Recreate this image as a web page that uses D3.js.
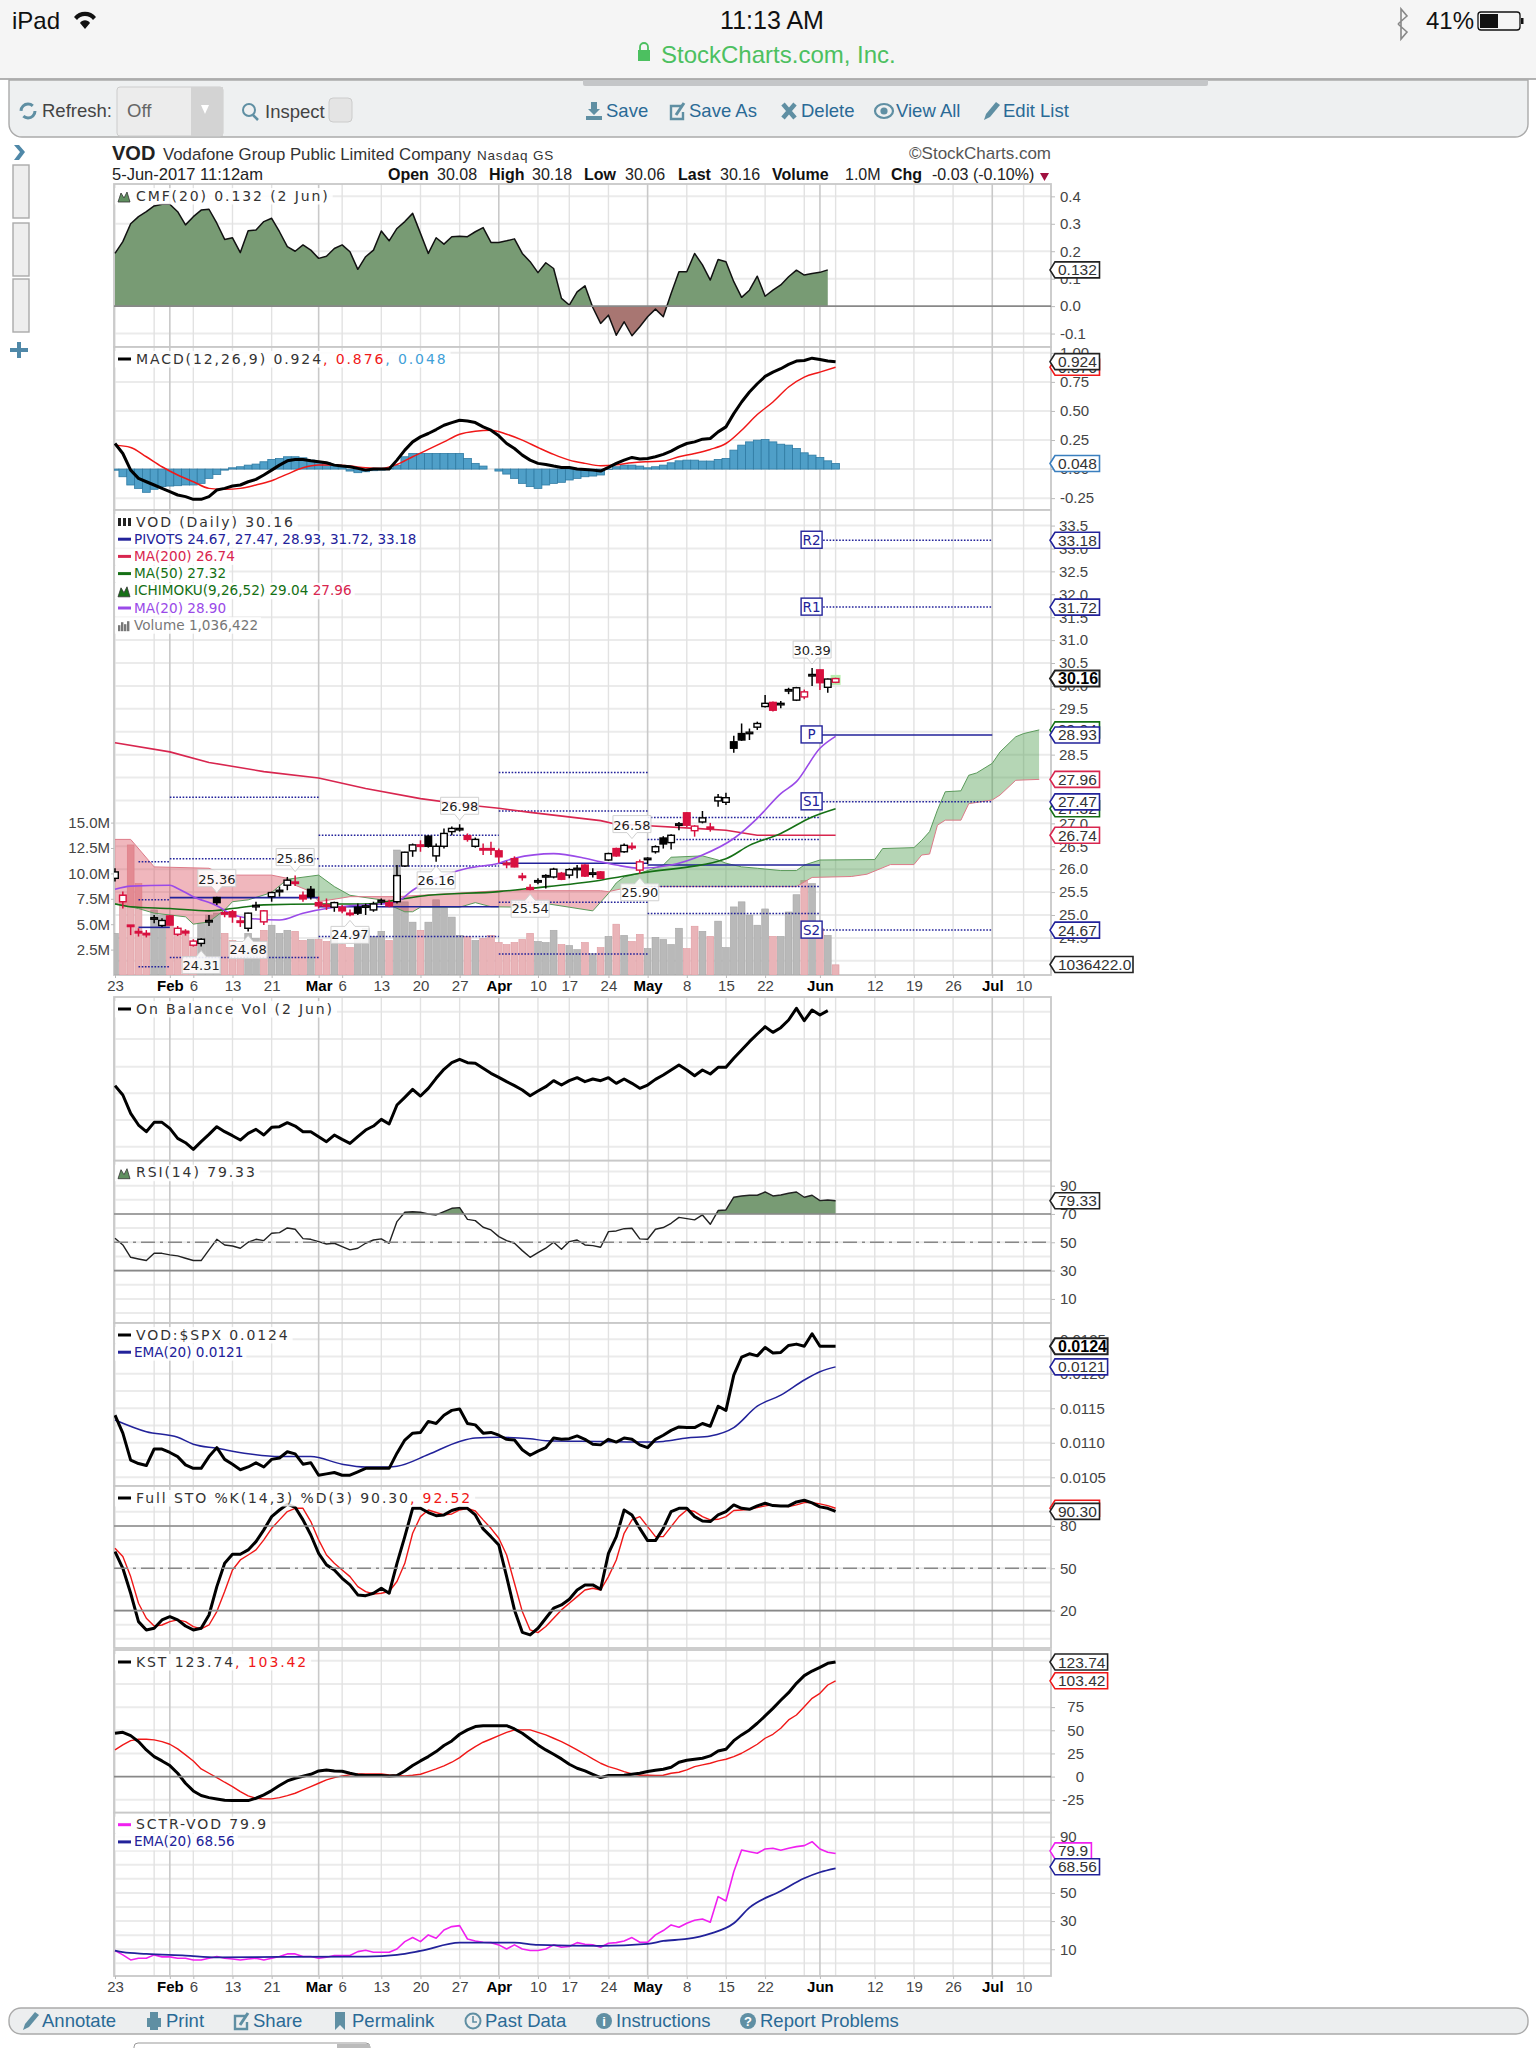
<!DOCTYPE html>
<html>
<head>
<meta charset="utf-8">
<style>
body { margin: 0; background: #fff; }
svg { display: block; font-family: "Liberation Sans", sans-serif; }
.axis text { font: 15px "Liberation Sans", sans-serif; fill: #444; }
.axis path { display: none; }
.axis line { stroke: #bbb; }
.legend { font: 14px "DejaVu Sans", sans-serif; letter-spacing: 1.9px; fill: #333; }
.legend2 { font: 13.6px "DejaVu Sans", sans-serif; letter-spacing: 0; }
.link { font: 18.5px "Liberation Sans", sans-serif; fill: #2a6a96; }
.head { font: 16px "Liberation Sans", sans-serif; fill: #222; }
.bold { font-weight: bold; fill: #111; }
</style>
</head>
<body>
<svg id="chart" width="1536" height="2048"></svg>
<script src="https://d3js.org/d3.v7.min.js"></script>
<script>

var dateDays = [0,7,10,15,20,26,29,34,39,44,49,54,58,63,68,73,78,83,90,97,102,107,112,116];
var dateLabels = ["23","Feb","6","13","21","Mar","6","13","20","27","Apr","10","17","24","May","8","15","22","Jun","12","19","26","Jul","10"];
var monthDays = [7,26,49,68,90,112];
var extraGridDays = [5,88,92];

var opens = [25.80,25.29,24.78,24.64,24.60,24.91,24.77,24.98,24.58,24.64,24.34,24.38,24.85,25.38,25.05,25.07,24.87,24.71,25.18,24.85,25.40,25.51,25.65,25.72,25.43,25.56,25.27,25.22,25.17,25.17,25.04,25.17,25.17,25.11,25.29,25.27,25.29,26.07,26.40,26.53,26.72,26.29,26.50,26.82,26.86,26.73,26.50,26.45,26.45,26.40,26.13,26.23,25.85,25.60,25.72,25.83,25.83,25.91,25.87,25.99,26.09,25.89,25.94,26.20,26.45,26.38,26.50,25.98,26.21,26.38,26.68,26.58,26.96,27.23,26.84,27.03,26.92,27.49,27.46,28.78,28.96,28.96,29.10,29.55,29.64,29.59,29.90,29.69,29.76,30.22,30.35,29.97,30.08];
var highs = [26.02,25.51,24.78,24.71,24.67,25.00,24.93,25.00,24.76,24.69,24.47,24.49,25.00,25.40,25.09,25.11,24.96,25.05,25.29,25.11,25.51,25.62,25.83,25.86,25.51,25.63,25.40,25.36,25.29,25.22,25.12,25.25,25.25,25.29,25.36,25.33,26.09,26.38,26.56,26.63,26.74,26.56,26.89,26.93,26.98,26.78,26.69,26.56,26.60,26.45,26.18,26.28,25.92,25.67,25.80,25.89,26.03,25.94,26.02,26.09,26.11,26.02,25.96,26.36,26.47,26.56,26.58,26.21,26.26,26.52,26.72,26.76,27.03,27.24,26.96,27.27,27.01,27.64,27.67,28.91,29.18,29.07,29.22,29.80,29.66,29.67,29.96,29.98,29.92,30.39,30.36,30.16,30.18];
var lows = [25.73,25.14,24.56,24.53,24.51,24.82,24.74,24.77,24.54,24.55,24.31,24.31,24.76,25.22,24.95,24.83,24.74,24.64,25.09,24.78,25.29,25.40,25.54,25.63,25.29,25.34,25.14,25.11,25.07,25.04,24.97,25.00,25.00,25.07,25.22,25.17,25.25,26.05,26.27,26.38,26.47,26.16,26.45,26.74,26.82,26.60,26.47,26.31,26.31,26.14,26.02,26.04,25.75,25.54,25.67,25.58,25.80,25.76,25.80,25.80,25.83,25.82,25.78,26.18,26.27,26.36,26.42,25.90,26.11,26.34,26.45,26.43,26.85,26.92,26.71,27.00,26.82,27.36,27.40,28.54,28.80,28.82,29.04,29.53,29.44,29.51,29.82,29.67,29.71,30.00,29.91,29.85,30.06];
var closes = [25.94,25.43,24.76,24.61,24.59,24.94,24.88,24.78,24.71,24.61,24.43,24.47,24.88,25.27,25.02,24.96,24.84,25.04,25.21,25.09,25.49,25.54,25.76,25.69,25.35,25.40,25.20,25.19,25.27,25.09,25.01,25.04,25.20,25.24,25.32,25.20,25.86,26.37,26.53,26.50,26.50,26.50,26.78,26.89,26.89,26.65,26.65,26.42,26.42,26.27,26.10,26.05,25.82,25.56,25.75,25.86,26.00,25.78,25.99,26.02,25.85,25.92,25.80,26.34,26.29,26.52,26.47,26.16,26.24,26.49,26.55,26.74,26.99,26.96,26.94,27.12,26.90,27.57,27.56,28.64,28.82,28.99,29.18,29.62,29.47,29.62,29.92,29.96,29.87,30.25,30.07,30.15,30.16];
var downDays = [1,2,3,4,7,8,9,10,14,15,16,19,23,24,26,27,29,30,35,39,45,47,48,49,50,51,52,53,57,60,62,64,66,67,73,74,76,84,88,90,92];
var volumes = [4.1,7.9,12.8,9.0,4.1,6.4,5.9,5.4,4.6,4.4,3.1,5.1,5.9,6.1,4.1,3.4,3.1,4.1,3.6,4.4,4.9,4.1,4.4,4.3,3.4,3.5,3.5,3.3,3.4,3.0,2.7,4.4,4.6,3.8,4.3,3.4,12.3,7.2,5.2,4.4,5.2,7.4,6.7,5.7,3.9,3.8,3.4,3.6,3.9,3.2,3.0,3.2,3.5,4.1,3.3,3.2,4.4,3.0,2.9,2.5,3.2,2.1,2.7,3.8,5.0,3.9,3.3,4.0,2.6,3.7,3.5,3.0,4.6,2.6,4.8,4.3,3.8,5.3,2.7,6.7,7.2,5.9,4.9,6.5,3.8,3.8,6.2,7.9,9.3,9.0,4.6,3.9,1.0];

var ma200Days = [0,7,12,19,26,32,39,45,49,53,62,64,67,74,78,82,92];
var ma200 = [28.76,28.56,28.33,28.13,27.99,27.76,27.54,27.40,27.33,27.24,27.06,26.98,26.96,26.89,26.85,26.74,26.74];
var ma50Days = [0,2,7,12,15,19,26,32,36,40,49,53,62,67,78,81,85,89,92];
var ma50 = [25.24,25.18,25.14,25.09,25.14,25.22,25.24,25.24,25.33,25.43,25.51,25.58,25.76,25.91,26.23,26.52,26.78,27.14,27.32];
var ma20Days = [0,2,7,8,10,13,15,17,21,24,27,30,34,36,38,41,45,49,51,56,60,62,64,67,71,75,79,82,85,87,90,92];
var ma20 = [25.56,25.63,25.65,25.58,25.40,25.20,25.01,24.93,24.89,25.04,25.14,25.20,25.24,25.29,25.54,25.80,26.02,26.13,26.24,26.34,26.24,26.16,26.09,26.02,26.09,26.31,26.67,27.11,27.65,27.91,28.64,28.90];

var spanADays = [0,3,5,9,10,12,14,15,17,20,22,26,28,30,34,35,37,38,39,44,46,48,52,55,58,61,63,64,65,67,70,71,75,77,78,80,82,85,87,88,90,97,98,102,103,104,105,106,108,109,110,112,113,115,116,118];
var spanA = [25.25,25.14,25.04,24.96,24.80,24.85,25.11,25.29,25.33,25.49,25.78,25.87,25.62,25.43,25.33,25.22,25.07,25.07,25.17,25.17,25.27,25.18,25.17,25.25,25.17,25.09,25.47,25.70,25.83,25.91,26.09,26.26,26.29,26.20,26.13,26.05,26.02,25.97,25.97,26.09,26.20,26.21,26.45,26.47,26.63,26.82,27.29,27.69,27.71,28.05,28.10,28.31,28.56,28.89,28.96,29.04];
var spanBDays = [0,2,5,12,14,20,22,23,25,26,30,36,49,62,63,66,87,89,94,96,99,102,103,104,105,106,108,109,112,113,115,118];
var spanB = [26.65,26.65,26.05,26.02,25.87,25.87,25.80,25.65,25.51,25.29,25.40,25.40,25.53,25.53,25.51,25.62,25.62,25.82,25.84,25.89,26.10,26.10,26.31,26.33,26.96,27.07,27.07,27.43,27.51,27.62,27.94,27.96];

var pivotStart = [3,7,26,49,68,90];
var pivotEnd = [7,26,49,68,90,112];
var pivotR2 = [null,27.57,26.74,28.11,27.13,33.18];
var pivotR1 = [26.16,26.23,26.07,27.27,26.65,31.72];
var pivotP = [24.73,25.38,25.18,26.13,26.09,28.93];
var pivotS1 = [25.33,null,24.53,25.28,25.62,27.47];
var pivotS2 = [23.87,24.07,null,24.15,25.03,24.67];
var pivotNames = ["R2","R1","P","S1","S2"];

var noteDays = [11,13,17,23,30,41,44,53,66,67,89];
var noteTexts = ["24.31","25.36","24.68","25.86","24.97","26.16","26.98","25.54","26.58","25.90","30.39"];
var noteAbove = [0,1,0,1,0,0,1,0,1,0,1];

var cmf = [.192,.235,.30,.326,.344,.365,.371,.371,.344,.296,.326,.35,.353,.302,.243,.249,.195,.275,.277,.308,.32,.271,.217,.20,.223,.204,.174,.182,.21,.223,.198,.134,.18,.204,.274,.238,.283,.308,.338,.265,.192,.249,.226,.253,.255,.253,.271,.286,.232,.232,.238,.245,.192,.162,.122,.158,.137,.028,.004,.052,.074,-.005,-.063,-.033,-.106,-.057,-.108,-.075,-.039,-.011,-.039,.046,.125,.125,.192,.15,.095,.17,.162,.089,.032,.058,.109,.036,.058,.077,.107,.131,.113,.119,.123,.132];

var macd = [.22,.134,-.009,-.08,-.109,-.137,-.166,-.194,-.223,-.237,-.26,-.26,-.237,-.18,-.166,-.146,-.137,-.109,-.089,-.051,-.009,.034,.071,.083,.083,.071,.063,.054,.034,.026,.02,.006,-.009,0,0,0,.077,.163,.234,.277,.306,.34,.377,.4,.42,.414,.4,.363,.334,.286,.22,.177,.12,.077,.049,.04,.026,.014,.014,0,-.003,-.009,-.017,.014,.049,.077,.1,.086,.091,.106,.126,.154,.191,.22,.234,.257,.263,.32,.363,.477,.577,.663,.734,.797,.834,.863,.9,.929,.934,.954,.943,.929,.924];
var signalDays = [0,2,4,6,8,10,12,14,16,18,20,22,24,26,28,30,32,34,36,38,40,42,44,46,48,50,52,54,56,58,60,62,64,66,68,70,72,74,76,78,80,82,84,86,88,90,92];
var signal = [.206,.186,.106,.02,-.051,-.109,-.166,-.174,-.166,-.137,-.1,-.043,.011,.034,.034,.026,.011,.006,.04,.106,.169,.234,.3,.326,.334,.3,.249,.186,.126,.077,.049,.029,.037,.054,.063,.069,.106,.134,.169,.22,.334,.469,.577,.706,.791,.834,.876];
var macdHist = [-.01,-.066,-.137,-.166,-.2,-.174,-.151,-.146,-.143,-.137,-.137,-.123,-.08,-.046,-.009,.011,.02,.034,.043,.063,.083,.091,.106,.106,.097,.077,.063,.054,.034,.02,-.017,-.031,-.023,-.014,-.009,.006,.034,.106,.134,.134,.134,.134,.134,.134,.134,.091,.049,.026,0,-.017,-.043,-.08,-.123,-.151,-.166,-.137,-.123,-.114,-.094,-.08,-.066,-.06,-.051,-.003,.02,.034,.034,.026,.011,.02,.034,.054,.071,.077,.077,.069,.069,.083,.091,.163,.206,.234,.249,.254,.234,.214,.206,.177,.14,.12,.1,.071,.048];

var obv = [22.3,19.5,14,10.5,8.5,11.3,11.3,9.5,6.5,5.2,3.2,5.5,7.7,10,8.5,7.3,6,8,9.2,7.5,9.8,10,11.2,10.2,8.5,8.5,7,5.5,7.5,6.2,5,7,9,10.2,12.2,10.8,16.5,18.8,21.2,19.2,21.5,24.5,27.2,29.2,30.2,29.2,29,27.5,26,24.8,23.5,22.3,21,19.3,20.7,22,23.8,22.5,23.8,24.7,23.5,24.3,23.8,24.7,23,24.3,23,21.5,22.5,24.2,25.5,27,28.5,27,25.3,27,25.8,27.8,27.8,30.5,33,35.5,37.8,40,38.3,39.7,42,45.5,41.8,45,43.5,44.8];
var obvGrid = [44.5,36.3,28,20,12,4];

var rsi = [52.8,48.1,39.4,38.2,37.1,42.2,42.2,41.1,40.4,38.7,37.1,37.1,44.6,52.1,48.1,47.4,45.8,50,52.1,51.2,56.4,56.8,60.1,59.2,52.6,52.1,50.5,48.8,49.3,46.9,44.6,45.8,49.3,51.6,52.4,49.3,64.6,71.2,71.6,71.2,70,69.3,71.6,74,74.5,66.2,65.3,60.6,58.7,54,51.2,49.3,44.1,39.4,42.7,45.8,50,45.1,50.5,51.6,48.1,47.6,46.5,57.5,58,59.6,59.9,52.4,52.1,59.2,60.4,63.4,67.6,66.7,65.8,69.3,62.7,72.4,72.8,81.8,82.7,83.2,83.2,85.5,82.7,83.4,84.6,85.5,81.8,83.2,79.4,79.9,79.33];

var spxRatio = [.0114,.01114,.01075,.0107,.01067,.01091,.01091,.01086,.0108,.01068,.01063,.01063,.0108,.01093,.01076,.01069,.01061,.01065,.01071,.01065,.01076,.01078,.01087,.01084,.01069,.01071,.01053,.01055,.01057,.01053,.01053,.01058,.01063,.01063,.01063,.01063,.01085,.01104,.01114,.01115,.01131,.01128,.0114,.01147,.01149,.01128,.01126,.01114,.01115,.01111,.01105,.01104,.0109,.01082,.01088,.01093,.01107,.01105,.01106,.0111,.01105,.01098,.01097,.01105,.01101,.01107,.01105,.01097,.01093,.01105,.01111,.01118,.01123,.01122,.01122,.01128,.01124,.01153,.01147,.01198,.01224,.01229,.01226,.01238,.0123,.01231,.01241,.01243,.0124,.01258,.0124,.0124,.0124];
var spxEmaDays = [0,4,8,10,13,17,21,25,29,32,35,36,40,44,46,49,53,55,62,68,70,73,76,79,82,85,88,90,92];
var spxEma = [.01133,.01116,.01108,.01098,.01092,.01084,.0108,.0108,.01069,.01065,.01065,.01066,.01083,.01102,.01107,.01108,.01106,.01103,.01102,.01101,.01102,.01107,.0111,.01122,.01153,.01169,.01191,.01203,.0121];

var stoK = [61.8,50,32.3,12.2,6.3,7.5,13.4,15.7,13.4,9.1,6.3,7.5,16.9,37,53.5,59.9,59.9,63,68.9,77.2,86.6,91.3,95.4,93.2,84.3,73.6,60.6,52.4,48.8,42.9,38.2,31.1,30.6,32.3,35.8,32.3,53.5,72.4,92.5,92.5,89.5,87.3,87.8,90.9,92.5,92.5,87.8,77.9,72.4,66.5,44.1,20.5,4.6,2.8,7.5,14.6,21.7,24,28,34.6,38.2,38.2,35.1,60.6,72.4,91.3,87.8,78.3,69.6,69.6,78.3,90.2,92.5,92.5,86.6,83.5,83.1,87.8,90.2,94.9,92.5,91.8,94.2,96.1,94.4,94.2,94.2,97,98.2,96.3,93.5,92.5,90.3];
var stoD = [64.2,58.3,44.1,25.2,14.6,9.1,9.8,12.2,13.4,12.2,8.7,7,9.8,19.3,33.5,48.8,55.9,59.4,63,70.1,78.3,84.3,90.2,92.5,92.5,83.1,70.1,59.4,53.5,48.8,44.1,37,33.5,31.8,32.3,33.5,40.6,53.5,74.8,86.6,91.3,89.5,87.8,88.5,91.3,92.5,90.6,84.3,78.3,71.3,59.4,39.4,19.3,6.3,4.4,8.7,14.6,20.5,25.2,29.9,34.6,35.8,34.6,44.1,55.9,74.8,84.3,86.6,79.5,72.4,72.4,79.5,86.6,91.3,90.2,86.6,84.3,84.7,86.6,90.9,91.3,91.8,93,94.2,94.9,94.2,93.7,94.9,96.5,96.5,95.6,94.4,92.52];

var kst = [46.8,47.8,44.2,37.8,28.8,21.6,16.9,11.9,3.6,-7.2,-15.5,-20.5,-22.7,-24.1,-25.5,-25.9,-25.9,-25.9,-23.4,-19.8,-15.1,-9.7,-4.7,-1.8,.4,2.5,6.1,7.2,6.1,5.8,3.6,1.8,1.1,1.1,1.1,.7,1.1,6.1,11.9,16.9,21.6,27,33.5,38.5,45.7,50.4,54,55,55,55,55,51.4,46.8,40.6,34.2,28.8,24.1,19.1,13.3,9,6.1,2.5,-1.1,1.1,1.1,1.4,2.5,3.6,5.4,6.8,7.9,10.1,15.5,17.6,18.7,19.8,22.3,27.7,29.5,38.8,45,50.4,57.6,65.5,73.7,82.4,90.6,100.7,109,114,118,122.3,123.74];
var kstSignal = [28.8,34.2,38.8,40.3,40.3,39.6,37.8,34.9,29.9,23.4,16.9,8.3,3.6,-1.1,-6.1,-10.8,-16.2,-20.9,-23.4,-24.1,-24.1,-22.7,-20.5,-18,-14.4,-10.8,-7.2,-3.6,-1.1,.7,1.8,2.9,2.9,2.9,2.9,1.8,1.1,.7,1.4,2.5,5.4,8.3,11.5,15.5,20.5,27,32.4,37.1,40.6,44.2,47.8,50.4,50.4,50.4,47.8,45,41.4,37.8,33.5,28.8,24.1,19.1,14.4,10.8,8.3,5.4,2.9,1.4,1.4,1.1,1.4,3.6,4.7,7.2,10.8,12.6,14.4,16.9,18.7,21.6,25.2,29.9,34.9,41.4,45.7,52.2,61.2,66.5,75.5,84.5,89.9,98.9,103.42];

var sctr = [9.1,6,2.4,3.6,3.6,6,4.6,4.6,3.6,3.6,2.4,2.4,3.6,4.8,3.6,3.1,2.4,3.1,3.6,2.4,3.6,4.8,6.7,6.7,4.8,4.8,3.6,4.3,5.5,5.5,5.5,8.3,9.3,7.9,7.9,7.9,10.2,15.4,18.3,15.4,20.2,17.8,23.7,26.1,26.8,17.3,15.9,15,14.7,13.1,10.2,13.1,10.2,9.1,9.1,10.2,13.1,11.4,11.9,14.7,13.6,13.1,11.4,14.3,14.7,15.9,18.3,15,15,20.2,23.3,27.3,25.6,28.5,30.6,31.5,29.2,47.4,44.3,65.1,80.5,79.3,78.2,81.2,81.7,80.3,81.7,82.9,83.6,86.4,81.2,78.9,78];
var sctrEmaDays = [0,1,4,9,13,21,32,36,39,44,51,54,62,68,70,73,76,79,81,85,88,90,92];
var sctrEma = [9.1,7.9,6.7,5.5,4.3,4.6,4.8,6,8.8,14.7,14.7,13.1,12.4,13.8,15.9,17.3,21.1,28.5,39.6,51.4,60.4,64.7,67.5];

var navTop = ["Save","Save As","Delete","View All","Edit List"];
var navTopX = [606,689,801,896,1003];
var navTopIcons = ["save","box","cross","eye","pencil"];
var navBottom = ["Annotate","Print","Share","Permalink","Past Data","Instructions","Report Problems"];
var navBottomX = [42,166,253,352,485,616,760];
var navBottomIcons = ["pencil","print","box","mark","clock","i","?"];

var svg = d3.select("#chart");
var x = d3.scaleLinear().domain([0, 119.5]).range([115, 1051]);
var left = 114, right = 1051;
var RED = "#d8103f", BLUE = "#22229a";

function seq(a, b, step) {
	return d3.range(Math.round((b - a) / step) + 1).map(function(k) { return a + k * step; });
}
function pts(values, days) {
	return values.map(function(v, i) { return [days ? days[i] : i, v]; });
}
function drawLine(g, y, values, days, color, width, smooth) {
	var line = d3.line().x(function(d) { return x(d[0]); }).y(function(d) { return y(d[1]); });
	if (smooth) line.curve(d3.curveMonotoneX);
	return g.append("path").attr("d", line(pts(values, days))).attr("fill", "none")
		.attr("stroke", color).attr("stroke-width", width).attr("stroke-linejoin", "round");
}
function fixed(n) {
	return function(d) { return d.toFixed(n); };
}

function makePanel(name, top, bottom, domain, gridVals) {
	var y = d3.scaleLinear().domain(domain).range([bottom, top]);
	var g = svg.append("g").attr("class", name);
	g.append("rect").attr("x", left).attr("y", top).attr("width", right - left).attr("height", bottom - top).attr("fill", "#fff");
	g.selectAll(".h").data(gridVals).enter().append("line")
		.attr("x1", left).attr("x2", right).attr("y1", y).attr("y2", y)
		.attr("stroke", "#ebebeb").attr("stroke-width", 2);
	var days = dateDays.concat(extraGridDays);
	g.selectAll(".v").data(days).enter().append("line")
		.attr("x1", x).attr("x2", x).attr("y1", top).attr("y2", bottom)
		.attr("stroke", function(d) { return monthDays.indexOf(d) >= 0 ? "#c9c9c9" : "#e2e2e2"; })
		.attr("stroke-width", function(d) { return monthDays.indexOf(d) >= 0 ? 1.6 : 1.4; });
	g.append("rect").attr("x", left).attr("y", top).attr("width", right - left).attr("height", bottom - top)
		.attr("fill", "none").attr("stroke", "#c8c8c8").attr("stroke-width", 1.8);
	svg.append("clipPath").attr("id", name + "-clip").append("rect")
		.attr("x", left).attr("y", top).attr("width", right - left).attr("height", bottom - top);
	var body = g.append("g").attr("clip-path", "url(#" + name + "-clip)");
	return { y: y, g: g, body: body, top: top, bottom: bottom };
}

function yAxis(panel, ticks, fmt, pad) {
	panel.g.append("g").attr("class", "axis").attr("transform", "translate(" + right + ",0)")
		.call(d3.axisRight(panel.y).tickValues(ticks).tickFormat(fmt).tickSize(4).tickPadding(pad || 5));
}
function hRule(panel, v, dash) {
	panel.g.append("line").attr("x1", left).attr("x2", right).attr("y1", panel.y(v)).attr("y2", panel.y(v))
		.attr("stroke", "#888").attr("stroke-width", 1.6).attr("stroke-dasharray", dash || null);
}
function tag(panel, v, text, color, bold, wide) {
	var yy = panel.y(v), w = wide || text.length * 8.1 + 4;
	var g = panel.g.append("g");
	g.append("path").attr("d", "M" + (right - 1) + "," + yy + "L1055," + (yy - 8) + "H" + (1055 + w) + "V" + (yy + 8) + "H1055Z")
		.attr("fill", "#fff").attr("stroke", color).attr("stroke-width", bold ? 2 : 1.6);
	g.append("text").attr("x", 1058).attr("y", yy + 5.5).attr("fill", bold ? "#000" : "#333")
		.attr("font-size", bold ? 16 : 15.5).attr("font-weight", bold ? "bold" : "normal").text(text);
}
function legend(panel, rows) {
	var g = panel.g.append("g");
	rows.forEach(function(r, i) {
		var yy = panel.top + 12 + i * 17.2;
		var t = g.append("text").attr("x", r.small ? 134 : 136).attr("y", yy + 4.5).attr("class", r.small ? "legend2" : "legend");
		r.parts.forEach(function(p) { t.append("tspan").attr("fill", p[1]).text(p[0]); });
		var box = t.node().getBBox();
		g.insert("rect", "text").attr("x", 115).attr("y", yy - 8).attr("width", box.x + box.width - 112).attr("height", 16.5)
			.attr("fill", "#fff").attr("opacity", 0.85);
		if (r.icon == "area") {
			g.append("path").attr("d", "M118," + (yy + 6) + "l3,-9 l3,5 l3,-6 l3,10Z").attr("fill", r.color).attr("stroke", "#333").attr("stroke-width", 0.8);
		} else if (r.icon == "bars") {
			[6, 9, 7, 10].forEach(function(h, k) {
				g.append("rect").attr("x", 118 + k * 3).attr("y", yy + 6 - h).attr("width", 2.4).attr("height", h).attr("fill", r.color);
			});
		} else if (r.icon == "candle") {
			[0, 5, 10].forEach(function(k) {
				g.append("rect").attr("x", 118 + k).attr("y", yy - 4).attr("width", 3).attr("height", 8).attr("fill", "#222");
			});
		} else {
			g.append("line").attr("x1", 118).attr("x2", 131).attr("y1", yy).attr("y2", yy).attr("stroke", r.color).attr("stroke-width", 3);
		}
	});
}
function dateAxis(yy) {
	var ax = svg.append("g").attr("class", "axis").attr("transform", "translate(0," + yy + ")")
		.call(d3.axisBottom(x).tickValues(dateDays).tickFormat(function(d) { return dateLabels[dateDays.indexOf(d)]; }).tickSize(3).tickPadding(2));
	ax.selectAll("text")
		.style("font-weight", function(d) { return monthDays.indexOf(d) >= 0 ? "bold" : "normal"; })
		.style("fill", function(d) { return monthDays.indexOf(d) >= 0 ? "#000" : "#444"; });
}
function navIcon(name, cx, cy) {
	var c = "#5f8fa3", g = svg.append("g").attr("transform", "translate(" + cx + "," + cy + ")");
	if (name == "save") {
		g.append("path").attr("d", "M-3,-9 h6 v7 h3 l-6,6 -6,-6 h3Z M-8,5 h16 v4 h-16Z").attr("fill", c);
	} else if (name == "box") {
		g.append("path").attr("d", "M5,-5 H-6 V8 H6 V1").attr("fill", "none").attr("stroke", c).attr("stroke-width", 2.4);
		g.append("path").attr("d", "M-1,4 L7,-8").attr("stroke", c).attr("stroke-width", 3);
	} else if (name == "cross") {
		g.append("path").attr("d", "M-6,-7 L6,7 M6,-7 L-6,7").attr("stroke", c).attr("stroke-width", 4.5);
	} else if (name == "eye") {
		g.append("ellipse").attr("rx", 9).attr("ry", 7).attr("fill", "none").attr("stroke", c).attr("stroke-width", 2.2);
		g.append("circle").attr("r", 3.6).attr("fill", c);
	} else if (name == "pencil") {
		g.append("path").attr("d", "M-7,9 L-5,3 L5,-9 L9,-6 L-1,6Z").attr("fill", c);
	} else if (name == "print") {
		g.append("path").attr("d", "M-4,-9 h8 v6 h3 v9 h-3 v3 h-8 v-3 h-3 v-9 h3Z").attr("fill", c);
	} else if (name == "mark") {
		g.append("path").attr("d", "M-5,-9 h10 v18 l-5,-5 -5,5Z").attr("fill", c);
	} else if (name == "clock") {
		g.append("circle").attr("r", 7.5).attr("fill", "none").attr("stroke", c).attr("stroke-width", 2);
		g.append("path").attr("d", "M0,-5 V1 H4").attr("fill", "none").attr("stroke", c).attr("stroke-width", 1.6);
	} else {
		g.append("circle").attr("r", 8).attr("fill", c);
		g.append("text").attr("text-anchor", "middle").attr("y", 5).attr("font-size", 13).attr("font-weight", "bold").attr("fill", "#fff").text(name);
	}
}

// top of the page
svg.append("rect").attr("width", 1536).attr("height", 79).attr("fill", "#f5f5f5");
svg.append("line").attr("x1", 0).attr("x2", 1536).attr("y1", 79).attr("y2", 79).attr("stroke", "#9a9a9a").attr("stroke-width", 1.5);
svg.append("text").attr("x", 12).attr("y", 29).attr("font-size", 24).attr("fill", "#111").text("iPad");
svg.append("path").attr("d", "M74,17 a14,14 0 0 1 22,0 l-3,3 a10,10 0 0 0 -16,0Z M80,23 a6,6 0 0 1 10,0 l-5,6Z").attr("fill", "#111");
svg.append("text").attr("x", 772).attr("y", 29).attr("text-anchor", "middle").attr("font-size", 25).attr("fill", "#111").text("11:13 AM");
svg.append("rect").attr("x", 638).attr("y", 50).attr("width", 12).attr("height", 11).attr("fill", "#4cc060");
svg.append("path").attr("d", "M640,50 v-3 a4,4 0 0 1 8,0 v3").attr("fill", "none").attr("stroke", "#4cc060").attr("stroke-width", 1.8);
svg.append("text").attr("x", 661).attr("y", 63).attr("font-size", 24).attr("fill", "#4cc060").text("StockCharts.com, Inc.");
svg.append("path").attr("d", "M1398,24 l9,-8 -6,-7 v30 l6,-7 -9,-8").attr("fill", "none").attr("stroke", "#888").attr("stroke-width", 1.6);
svg.append("text").attr("x", 1426).attr("y", 29).attr("font-size", 24).attr("fill", "#111").text("41%");
svg.append("rect").attr("x", 1478).attr("y", 12).attr("width", 42).attr("height", 18).attr("rx", 3).attr("fill", "none").attr("stroke", "#111").attr("stroke-width", 1.3);
svg.append("rect").attr("x", 1480).attr("y", 14).attr("width", 18).attr("height", 14).attr("fill", "#111");
svg.append("rect").attr("x", 1521).attr("y", 18).attr("width", 2.5).attr("height", 6).attr("fill", "#111");

// toolbar
svg.append("path").attr("d", "M9,80 V124 a13,13 0 0 0 13,13 H1515 a13,13 0 0 0 13,-13 V80Z").attr("fill", "#eef0f1").attr("stroke", "#aaa").attr("stroke-width", 1.4);
svg.append("path").attr("d", "M583,80 V84 a2,2 0 0 0 2,2 H1206 a2,2 0 0 0 2,-2 V80Z").attr("fill", "#c4c6c8");
svg.append("circle").attr("cx", 28).attr("cy", 111).attr("r", 7).attr("fill", "none").attr("stroke", "#5f8fa3").attr("stroke-width", 3).attr("stroke-dasharray", "16 6");
svg.append("text").attr("x", 42).attr("y", 117).attr("font-size", 18.5).attr("fill", "#444").text("Refresh:");
svg.append("rect").attr("x", 117).attr("y", 87).attr("width", 106).attr("height", 49).attr("rx", 3).attr("fill", "#ececec").attr("stroke", "#ccc");
svg.append("rect").attr("x", 191).attr("y", 87).attr("width", 32).attr("height", 49).attr("fill", "#d3d3d3");
svg.append("path").attr("d", "M201,105 h8 l-4,9Z").attr("fill", "#fff");
svg.append("text").attr("x", 127).attr("y", 117).attr("font-size", 18.5).attr("fill", "#666").text("Off");
svg.append("circle").attr("cx", 249).attr("cy", 110).attr("r", 6).attr("fill", "none").attr("stroke", "#5f8fa3").attr("stroke-width", 2);
svg.append("line").attr("x1", 253).attr("y1", 115).attr("x2", 258).attr("y2", 120).attr("stroke", "#5f8fa3").attr("stroke-width", 2.5);
svg.append("text").attr("x", 265).attr("y", 118).attr("font-size", 18.5).attr("fill", "#444").text("Inspect");
svg.append("rect").attr("x", 329).attr("y", 98).attr("width", 23).attr("height", 24).attr("rx", 4).attr("fill", "#e4e4e4").attr("stroke", "#ccc");
svg.selectAll(".navTop").data(navTop).enter().append("text").attr("class", "link")
	.attr("x", function(d, i) { return navTopX[i]; }).attr("y", 117).text(function(d) { return d; });
navTopIcons.forEach(function(n, i) { navIcon(n, navTopX[i] - 12, 111); });

// left side controls
svg.append("path").attr("d", "M14,145 l6,7 -6,8 h5 l6,-8 -6,-7Z").attr("fill", "#4f88a8");
[165, 223, 279].forEach(function(t) {
	svg.append("rect").attr("x", 13).attr("y", t).attr("width", 16).attr("height", 53).attr("fill", "#eee").attr("stroke", "#aaa").attr("stroke-width", 1.4);
});
svg.append("path").attr("d", "M10,350 h18 M19,342 v16").attr("stroke", "#4f88a8").attr("stroke-width", 4);

// chart heading
svg.append("text").attr("x", 112).attr("y", 160).attr("font-size", 20).attr("font-weight", "bold").attr("fill", "#222").text("VOD");
svg.append("text").attr("x", 163).attr("y", 160).attr("font-size", 16.8).attr("fill", "#333").text("Vodafone Group Public Limited Company");
svg.append("text").attr("x", 477).attr("y", 160).attr("font-size", 13.5).attr("fill", "#333").attr("letter-spacing", 0.8).text("Nasdaq GS");
svg.append("text").attr("x", 1051).attr("y", 159).attr("text-anchor", "end").attr("font-size", 17).attr("fill", "#555").text("©StockCharts.com");
svg.append("text").attr("x", 112).attr("y", 180).attr("class", "head").style("font-size", "16.5px").text("5-Jun-2017 11:12am");
var quoteBits = [["Open",388,1],["30.08",437,0],["High",489,1],["30.18",532,0],["Low",584,1],["30.06",625,0],["Last",678,1],["30.16",720,0],["Volume",772,1],["1.0M",845,0],["Chg",891,1],["-0.03 (-0.10%)",932,0]];
svg.selectAll(".quote").data(quoteBits).enter().append("text")
	.attr("class", function(d) { return d[2] ? "head bold" : "head"; })
	.attr("x", function(d) { return d[1]; }).attr("y", 180)
	.text(function(d) { return d[0]; });
svg.append("path").attr("d", "M1040,173 h9 l-4.5,8Z").attr("fill", "#a01040");

// CMF
var pCmf = makePanel("cmf", 184, 347, [-.149, .445], [.4, .3, .2, .1, -.1]);
["above", "below"].forEach(function(side) {
	var y0 = pCmf.y(0), id = "cmf-" + side;
	svg.append("clipPath").attr("id", id).append("rect").attr("x", left).attr("width", right - left)
		.attr("y", side == "above" ? pCmf.top : y0).attr("height", side == "above" ? y0 - pCmf.top : pCmf.bottom - y0);
	pCmf.body.append("path").attr("clip-path", "url(#" + id + ")")
		.attr("d", d3.area().x(function(d) { return x(d[0]); }).y0(y0).y1(function(d) { return pCmf.y(d[1]); })(pts(cmf)))
		.attr("fill", side == "above" ? "#789b74" : "#a87672");
});
hRule(pCmf, 0);
drawLine(pCmf.body, pCmf.y, cmf, null, "#111", 1.5);
yAxis(pCmf, [.4, .3, .2, .1, 0, -.1], fixed(1));
tag(pCmf, .132, "0.132", "#222");
legend(pCmf, [{ icon: "area", color: "#5f8f5f", parts: [["CMF(20) 0.132 (2 Jun)", "#333"]] }]);

// MACD
var pMacd = makePanel("macd", 347, 510, [-.352, 1.05], [1, .75, .5, .25, 0, -.25]);
pMacd.body.selectAll(".hist").data(macdHist).enter().append("rect")
	.attr("x", function(d, i) { return x(i) - 3.9; }).attr("width", 7.83)
	.attr("y", function(d) { return Math.min(pMacd.y(d), pMacd.y(0)); })
	.attr("height", function(d) { return Math.abs(pMacd.y(d) - pMacd.y(0)); })
	.attr("fill", "#4f9fc8").attr("stroke", "#2f7ba3").attr("stroke-width", 0.8);
drawLine(pMacd.body, pMacd.y, signal, signalDays, "#f01818", 1.5, true);
drawLine(pMacd.body, pMacd.y, macd, null, "#000", 3);
yAxis(pMacd, [1, .75, .5, .25, 0, -.25], fixed(2));
tag(pMacd, .876, "0.876", "#f01818");
tag(pMacd, .924, "0.924", "#222");
tag(pMacd, .048, "0.048", "#3a7fbf");
legend(pMacd, [{ color: "#000", parts: [["MACD(12,26,9) 0.924", "#333"], [", 0.876", "#f01818"], [", 0.048", "#3fa0d8"]] }]);

// price
var pPrice = makePanel("price", 510, 975, [23.69, 33.84], seq(24, 33.5, .5));
var yVol = d3.scaleLinear().domain([0, 15]).range([975, 822.6]);
pPrice.body.selectAll(".vol").data(volumes).enter().append("rect")
	.attr("x", function(d, i) { return x(i) - 3.4; }).attr("width", 6.8)
	.attr("y", yVol).attr("height", function(d) { return 975 - yVol(d); })
	.attr("fill", function(d, i) { return downDays.indexOf(i) >= 0 ? "#e9b4b8" : "#b9b9b9"; })
	.attr("stroke", function(d, i) { return downDays.indexOf(i) >= 0 ? "#df9aa0" : "#a5a5a5"; }).attr("stroke-width", 0.6);

// ichimoku cloud, two clip shapes decide the colour
var ax = function(d) { return x(d[0]); };
var ay = function(d) { return pPrice.y(d[1]); };
var ptsA = pts(spanA, spanADays), ptsB = pts(spanB, spanBDays);
svg.append("clipPath").attr("id", "aboveB").append("path").attr("d", d3.area().x(ax).y0(510).y1(ay)(ptsB));
svg.append("clipPath").attr("id", "aboveA").append("path").attr("d", d3.area().x(ax).y0(510).y1(ay)(ptsA));
pPrice.body.append("path").attr("clip-path", "url(#aboveB)").attr("d", d3.area().x(ax).y0(975).y1(ay)(ptsA))
	.attr("fill", "#4f9e4f").attr("opacity", 0.42);
pPrice.body.append("path").attr("clip-path", "url(#aboveA)").attr("d", d3.area().x(ax).y0(975).y1(ay)(ptsB))
	.attr("fill", "#d94a5a").attr("opacity", 0.4);
drawLine(pPrice.body, pPrice.y, spanA, spanADays, "#5a9a5a", 1);
drawLine(pPrice.body, pPrice.y, spanB, spanBDays, "#dd7a88", 1);

// pivots
[pivotR2, pivotR1, pivotP, pivotS1, pivotS2].forEach(function(row, r) {
	pPrice.body.selectAll(".piv" + r).data(row).enter().filter(function(d) { return d !== null; }).append("line")
		.attr("x1", function(d) { return x(pivotStart[row.indexOf(d)]); })
		.attr("x2", function(d) { return x(pivotEnd[row.indexOf(d)]); })
		.attr("y1", pPrice.y).attr("y2", pPrice.y)
		.attr("stroke", BLUE).attr("stroke-width", r == 2 ? 1.6 : 1.5)
		.attr("stroke-dasharray", r == 2 ? null : "1.6 1.6");
});
drawLine(pPrice.body, pPrice.y, ma200, ma200Days, "#d8264f", 1.6);
drawLine(pPrice.body, pPrice.y, ma50, ma50Days, "#157015", 1.6, true);
drawLine(pPrice.body, pPrice.y, ma20, ma20Days, "#9a4ae8", 1.6, true);

// candles
pPrice.body.append("rect").attr("x", x(92) - 5).attr("y", pPrice.y(30.24)).attr("width", 10).attr("height", 10).attr("fill", "#b8eeb0");
var candles = pPrice.body.selectAll(".candle").data(closes).enter().append("g");
function candleColor(i) { return downDays.indexOf(i) >= 0 ? RED : "#000"; }
candles.append("line").attr("x1", function(d, i) { return x(i); }).attr("x2", function(d, i) { return x(i); })
	.attr("y1", function(d, i) { return pPrice.y(highs[i]); }).attr("y2", function(d, i) { return pPrice.y(lows[i]); })
	.attr("stroke", function(d, i) { return candleColor(i); }).attr("stroke-width", 1.5);
candles.append("rect").attr("x", function(d, i) { return x(i) - 3.3; }).attr("width", 6.6)
	.attr("y", function(d, i) { return pPrice.y(Math.max(opens[i], d)); })
	.attr("height", function(d, i) { return Math.max(1.5, Math.abs(pPrice.y(opens[i]) - pPrice.y(d))); })
	.attr("fill", function(d, i) { return d > opens[i] ? "#fff" : candleColor(i); })
	.attr("stroke", function(d, i) { return candleColor(i); }).attr("stroke-width", 1.4);

// price notes on the highs and lows
var notes = pPrice.body.selectAll(".note").data(noteTexts).enter().append("g")
	.attr("transform", function(d, i) {
		var day = noteDays[i];
		var yy = noteAbove[i] ? pPrice.y(highs[day]) - 18 : pPrice.y(lows[day]) + 18;
		return "translate(" + x(day) + "," + yy + ")";
	});
notes.append("path").attr("d", function(d, i) {
	return noteAbove[i] ? "M-19,-9 H19 V8 H5 L0,14 L-5,8 H-19Z" : "M-19,-8 H-5 L0,-14 L5,-8 H19 V9 H-19Z";
}).attr("fill", "#fff").attr("fill-opacity", 0.88).attr("stroke", "#d0d0d0");
notes.append("text").attr("text-anchor", "middle").attr("y", 5).attr("font-size", 13)
	.attr("font-family", "DejaVu Sans").attr("fill", "#222").text(function(d) { return d; });

// pivot name boxes for the current month
[pivotR2, pivotR1, pivotP, pivotS1, pivotS2].forEach(function(row, r) {
	var yy = pPrice.y(row[5]), g = pPrice.body.append("g");
	g.append("rect").attr("x", x(89) - 11).attr("y", yy - 9).attr("width", 21).attr("height", 17)
		.attr("fill", "#fff").attr("stroke", BLUE).attr("stroke-width", 1.4);
	g.append("text").attr("x", x(89) - 0.5).attr("y", yy + 4.5).attr("text-anchor", "middle").attr("font-size", 13.5)
		.attr("font-family", "DejaVu Sans").attr("fill", BLUE).text(pivotNames[r]);
});

yAxis(pPrice, seq(24, 33.5, .5), fixed(1), 4);
pPrice.g.append("g").attr("class", "axis").attr("transform", "translate(" + left + ",0)")
	.call(d3.axisLeft(yVol).tickValues([2.5, 5, 7.5, 10, 12.5, 15]).tickFormat(function(d) { return d.toFixed(1) + "M"; }).tickSize(3).tickPadding(1));
tag(pPrice, 33.18, "33.18", BLUE);
tag(pPrice, 31.72, "31.72", BLUE);
tag(pPrice, 30.16, "30.16", "#222", true);
tag(pPrice, 29.04, "29.04", "#157015");
tag(pPrice, 28.93, "28.93", BLUE);
tag(pPrice, 27.96, "27.96", "#d8264f");
tag(pPrice, 27.32, "27.32", "#157015");
tag(pPrice, 27.47, "27.47", BLUE);
tag(pPrice, 26.74, "26.74", "#d8264f");
tag(pPrice, 24.67, "24.67", BLUE);
tag({ y: yVol, g: pPrice.g }, 1.036422, "1036422.0", "#222", false, 78);
var legendSmall = function(label, color, icon, extra) {
	var parts = [[label, color]];
	if (extra) parts.push(extra);
	return { small: true, color: color, icon: icon, parts: parts };
};
legend(pPrice, [
	{ icon: "candle", parts: [["VOD (Daily) 30.16", "#333"]] },
	legendSmall("PIVOTS 24.67, 27.47, 28.93, 31.72, 33.18", BLUE),
	legendSmall("MA(200) 26.74", "#d8264f"),
	legendSmall("MA(50) 27.32", "#157015"),
	legendSmall("ICHIMOKU(9,26,52) 29.04 ", "#157015", "area", ["27.96", "#d8264f"]),
	legendSmall("MA(20) 28.90", "#9a4ae8"),
	legendSmall("Volume 1,036,422", "#777", "bars")
]);
dateAxis(975);

// on balance volume
var pObv = makePanel("obv", 997, 1160.7, [-.2, 48.9], obvGrid);
drawLine(pObv.body, pObv.y, obv, null, "#000", 3);
legend(pObv, [{ color: "#000", parts: [["On Balance Vol (2 Jun)", "#333"]] }]);

// RSI
var pRsi = makePanel("rsi", 1160.7, 1323, [-7, 107.6], seq(0, 100, 10));
svg.append("clipPath").attr("id", "rsiOver").append("rect").attr("x", left).attr("width", right - left)
	.attr("y", pRsi.top).attr("height", pRsi.y(70) - pRsi.top);
pRsi.body.append("path").attr("clip-path", "url(#rsiOver)")
	.attr("d", d3.area().x(function(d) { return x(d[0]); }).y0(pRsi.y(70)).y1(function(d) { return pRsi.y(d[1]); })(pts(rsi)))
	.attr("fill", "#789b74");
hRule(pRsi, 70);
hRule(pRsi, 30);
hRule(pRsi, 50, "14 5 3 5");
drawLine(pRsi.body, pRsi.y, rsi, null, "#222", 1.4);
yAxis(pRsi, [90, 70, 50, 30, 10], fixed(0));
tag(pRsi, 79.33, "79.33", "#222");
legend(pRsi, [{ icon: "area", color: "#5f8f5f", parts: [["RSI(14) 79.33", "#333"]] }]);

// VOD:$SPX
var pSpx = makePanel("spx", 1323, 1486, [.010374, .012736], [.0125, .012, .0115, .011, .0105, .01225, .01175, .01125, .01075]);
drawLine(pSpx.body, pSpx.y, spxEma, spxEmaDays, BLUE, 1.5, true);
drawLine(pSpx.body, pSpx.y, spxRatio, null, "#000", 3);
yAxis(pSpx, [.0125, .012, .0115, .011, .0105], fixed(4));
tag(pSpx, .0124, "0.0124", "#222", true);
tag(pSpx, .0121, "0.0121", BLUE);
legend(pSpx, [
	{ color: "#000", parts: [["VOD:$SPX 0.0124", "#333"]] },
	legendSmall("EMA(20) 0.0121", BLUE)
]);

// full stochastics
var pSto = makePanel("sto", 1486, 1648, [-6.5, 108.3], seq(0, 100, 10));
hRule(pSto, 80);
hRule(pSto, 20);
hRule(pSto, 50, "14 5 3 5");
drawLine(pSto.body, pSto.y, stoD, null, "#f01818", 1.4);
drawLine(pSto.body, pSto.y, stoK, null, "#000", 3);
yAxis(pSto, [80, 50, 20], fixed(0));
tag(pSto, 92.52, "92.52", "#f01818");
tag(pSto, 90.3, "90.30", "#222");
legend(pSto, [{ color: "#000", parts: [["Full STO %K(14,3) %D(3) 90.30", "#333"], [", 92.52", "#f01818"]] }]);

// KST
var pKst = makePanel("kst", 1650, 1812.7, [-39, 136.7], [125, 100, 75, 50, 25, -25]);
hRule(pKst, 0);
drawLine(pKst.body, pKst.y, kstSignal, null, "#f01818", 1.4);
drawLine(pKst.body, pKst.y, kst, null, "#000", 3);
yAxis(pKst, [125, 100, 75, 50, 25, 0, -25], fixed(0), 13);
pKst.g.selectAll(".axis text").attr("text-anchor", "end").attr("x", 1084 - right);
tag(pKst, 123.74, "123.74", "#222");
tag(pKst, 103.42, "103.42", "#f01818");
legend(pKst, [{ color: "#000", parts: [["KST 123.74", "#333"], [", 103.42", "#f01818"]] }]);

// SCTR
var pSctr = makePanel("sctr", 1812.7, 1976, [-9, 107], seq(0, 100, 10));
drawLine(pSctr.body, pSctr.y, sctr, null, "#f020f0", 1.6);
drawLine(pSctr.body, pSctr.y, sctrEma, sctrEmaDays, BLUE, 1.8, true);
yAxis(pSctr, [90, 70, 50, 30, 10], fixed(0));
tag(pSctr, 79.9, "79.9", "#f020f0");
tag(pSctr, 68.56, "68.56", BLUE);
legend(pSctr, [
	{ color: "#f020f0", parts: [["SCTR-VOD 79.9", "#333"]] },
	legendSmall("EMA(20) 68.56", BLUE)
]);
dateAxis(1976);

// bottom toolbar
svg.append("rect").attr("x", 9).attr("y", 2008).attr("width", 1519).attr("height", 26).attr("rx", 12).attr("fill", "#eceeef").attr("stroke", "#aaa").attr("stroke-width", 1.4);
svg.selectAll(".navBottom").data(navBottom).enter().append("text").attr("class", "link")
	.attr("x", function(d, i) { return navBottomX[i]; }).attr("y", 2027).text(function(d) { return d; });
navBottomIcons.forEach(function(n, i) { navIcon(n, navBottomX[i] - 12, 2021); });
svg.append("rect").attr("x", 134).attr("y", 2043).attr("width", 236).attr("height", 12).attr("rx", 4).attr("fill", "#fff").attr("stroke", "#999");
svg.append("rect").attr("x", 337).attr("y", 2044).attr("width", 33).attr("height", 10).attr("fill", "#bbb");

</script>
</body>
</html>
